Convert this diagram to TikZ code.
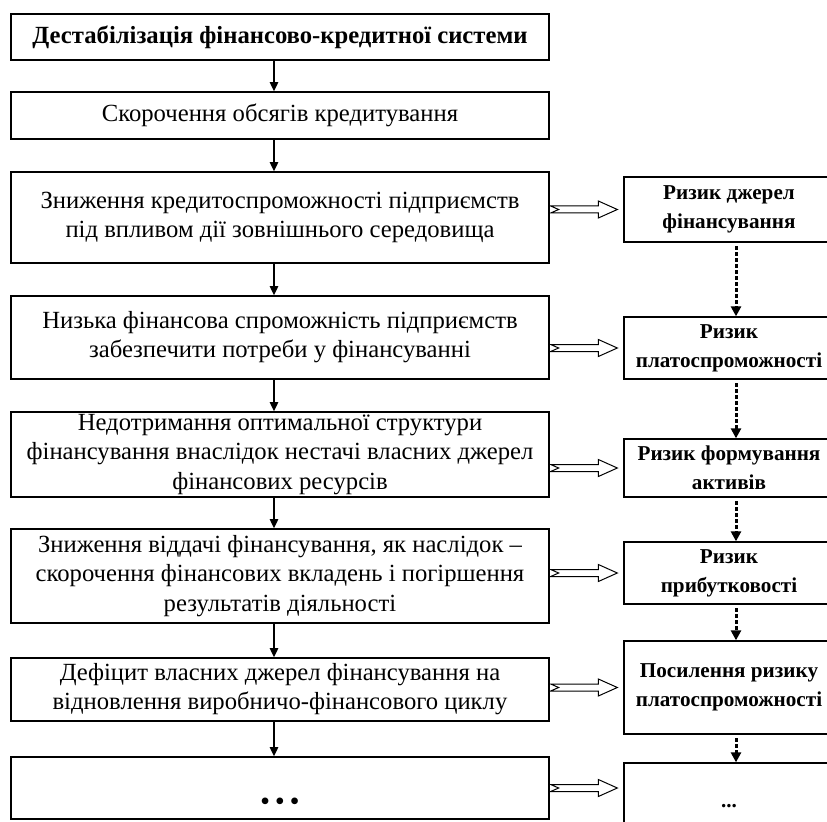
\documentclass[tikz,border=0pt]{standalone}
\usepackage{fontspec}
\setmainfont{Liberation Serif}
\usetikzlibrary{arrows.meta}
\usetikzlibrary{calc}
\newcommand{\ux}{0.6pt}

\begin{document}
\begin{tikzpicture}[x=0.6pt,y=-0.6pt,>={Triangle[length=5.5pt,width=5pt]},
    lbox/.style={draw, line width=0.8pt, minimum width=538*\ux, align=center, inner sep=0pt, font=\fontsize{14.8}{17.5}\selectfont},
    rbox/.style={draw, line width=0.8pt, minimum width=210*\ux, align=center, inner sep=0pt, font=\fontsize{12.7}{17.5}\selectfont\bfseries},
    down/.style={->, line width=0.9pt},
    dots/.style={-{Triangle[length=6pt,width=6pt]}, line width=1.8pt, dash pattern=on 2.4pt off 1.2pt, shorten <=2pt},
    hollow/.style={line width=0.6pt, to path={let \p1=(\tikztostart), \p2=(\tikztotarget) in
      (\x1+0.6pt,\y1+2.1pt) -- (\x2-15pt,\y1+2.1pt) -- (\x2-15pt,\y1+5.1pt) -- (\x2-3.6pt,\y1)
      -- (\x2-15pt,\y1-5.1pt) -- (\x2-15pt,\y1-2.1pt) -- (\x1+0.6pt,\y1-2.1pt) -- (\x1+5.4pt,\y1) -- cycle}}
  ]
  \useasboundingbox (0,0) rectangle (827,822);

  % left column
  \node[lbox, minimum height=46*\ux] (L1) at (280,37) {\textbf{Дестабілізація фінансово-кредитної системи}};
  \node[lbox, minimum height=47*\ux] (L2) at (280,115.5) {Скорочення обсягів кредитування};
  \node[lbox, minimum height=91*\ux] (L3) at (280,217.5) {Зниження кредитоспроможності підприємств\\під впливом дії зовнішнього середовища};
  \node[lbox, minimum height=83*\ux] (L4) at (280,337.5) {Низька фінансова спроможність підприємств\\забезпечити потреби у фінансуванні};
  \node[lbox, minimum height=85*\ux] (L5) at (280,454.5) {Недотримання оптимальної структури\\фінансування внаслідок нестачі власних джерел\\фінансових ресурсів};
  \node[lbox, minimum height=94*\ux] (L6) at (280,576) {Зниження віддачі фінансування, як наслідок –\\скорочення фінансових вкладень і погіршення\\результатів діяльності};
  \node[lbox, minimum height=63*\ux] (L7) at (280,689.5) {Дефіцит власних джерел фінансування на\\відновлення виробничо-фінансового циклу};
  \node[lbox, minimum height=62*\ux] (L8) at (280,788) {\raisebox{-12.8pt}[0pt][0pt]{\textbf{• • •}}};

  % right column
  \node[rbox, minimum height=65*\ux] (R1) at (729,209.5) {Ризик джерел\\фінансування};
  \node[rbox, minimum height=62*\ux] (R2) at (729,348) {Ризик\\платоспроможності};
  \node[rbox, minimum height=58*\ux] (R3) at (729,468) {Ризик формування\\активів};
  \node[rbox, minimum height=62*\ux] (R4) at (729,573) {Ризик\\прибутковості};
  \node[rbox, minimum height=93*\ux] (R5) at (729,687.5) {Посилення ризику\\платоспроможності};
  \node[rbox, minimum height=87*\ux] (R6) at (729,806.5) {...};

  % arrows
  \foreach \a/\b in {L1/L2,L2/L3,L3/L4,L4/L5,L5/L6,L6/L7,L7/L8}
    \draw[down] ([xshift=-6*\ux]\a.south) -- ([xshift=-6*\ux]\b.north);
  \foreach \a/\b in {R1/R2,R2/R3,R3/R4,R4/R5,R5/R6}
    \draw[dots] ([xshift=7*\ux]\a.south) -- ([xshift=7*\ux]\b.north);
  \foreach \a/\b in {L3/R1,L4/R2,L5/R3,L6/R4,L7/R5}
    \draw[hollow] (\a.east |- \b.west) to (\b.west);
  \draw[hollow] (L8.east) to (L8.east -| R6.west);
\end{tikzpicture}
\end{document}
